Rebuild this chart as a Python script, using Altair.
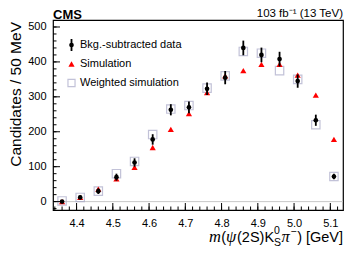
import altair as alt
import pandas as pd

mass = [4.36, 4.41, 4.46, 4.51, 4.56, 4.61, 4.66, 4.71, 4.76, 4.81, 4.86, 4.91, 4.96, 5.01, 5.06, 5.11]
data_vals = [0, 12, 30, 70, 112, 178, 263, 270, 323, 355, 440, 420, 408, 345, 233, 72]
data_errs = [4, 5, 8, 10, 12, 15, 16, 17, 18, 19, 21, 21, 21, 19, 16, 8]
sim_vals = [0, 12, 36, 65, 98, 155, 207, 252, 312, 360, 375, 393, 393, 362, 305, 178]
wsim_vals = [2, 12, 30, 80, 115, 192, 265, 275, 325, 360, 430, 425, 375, 350, 220, 72]

x_major = [4.4, 4.5, 4.6, 4.7, 4.8, 4.9, 5.0, 5.1]
x_minor = [round(4.34 + 0.02 * i, 2) for i in range(40)]
y_major = [0, 100, 200, 300, 400, 500]
y_minor = list(range(-20, 520, 20))

legend_labels = ["Bkg.-subtracted data", "Simulation", "Weighted simulation"]

W, H = 290, 190
XD = [4.335, 5.135]
YD = [-24, 520]
FONT = "Liberation Sans"

df = pd.DataFrame({
    "m": mass,
    "data": data_vals,
    "lo": [v - e for v, e in zip(data_vals, data_errs)],
    "hi": [v + e for v, e in zip(data_vals, data_errs)],
    "sim": sim_vals,
    "wsim": wsim_vals,
})

xs = alt.Scale(domain=XD, nice=False, zero=False)
ys = alt.Scale(domain=YD, nice=False, zero=False)

xax = alt.Axis(values=x_major, format=".1f", grid=False, ticks=False, domain=False, labelOverlap=False,
               labelFontSize=11, labelFont=FONT, labelColor="black", labelPadding=7, title=None)
yax = alt.Axis(values=y_major, grid=False, ticks=False, domain=False, labelOverlap=False,
               labelFontSize=11, labelFont=FONT, labelColor="black", labelPadding=7, title=None)

def X(f):
    return alt.X(f, scale=xs, axis=xax)

def Y(f):
    return alt.Y(f, scale=ys, axis=yax)

base = alt.Chart(df)

zero_line = alt.Chart(pd.DataFrame({"y": [0]})).mark_rule(color="#c8c8c8", strokeWidth=1).encode(
    y=Y("y:Q"))

wsim = base.mark_point(shape="square", filled=False, color="#a9a9c8", size=70, strokeWidth=1.2).encode(
    x=X("m:Q"), y=Y("wsim:Q"))

sim = base.mark_point(shape="triangle-up", filled=True, color="#ff0000", size=38, opacity=1).encode(
    x=X("m:Q"), y=Y("sim:Q"))

err = base.mark_rule(color="black", strokeWidth=1.8).encode(
    x=X("m:Q"), y=Y("lo:Q"), y2="hi:Q")

pts = base.mark_point(shape="circle", filled=True, color="black", size=22, opacity=1).encode(
    x=X("m:Q"), y=Y("data:Q"))

xt_major = alt.Chart(pd.DataFrame({"t": x_major})).mark_rule(color="black", strokeWidth=1).encode(
    x=X("t:Q"), y=alt.value(H), y2=alt.value(H - 7))
xt_minor = alt.Chart(pd.DataFrame({"t": x_minor})).mark_rule(color="black", strokeWidth=1).encode(
    x=X("t:Q"), y=alt.value(H), y2=alt.value(H - 3.5))
yt_major = alt.Chart(pd.DataFrame({"t": y_major})).mark_rule(color="black", strokeWidth=1).encode(
    y=Y("t:Q"), x=alt.value(0), x2=alt.value(7))
yt_minor = alt.Chart(pd.DataFrame({"t": y_minor})).mark_rule(color="black", strokeWidth=1).encode(
    y=Y("t:Q"), x=alt.value(0), x2=alt.value(3.5))

def txt(s, x, y, size=11, align="left", baseline="alphabetic", style="normal", weight="normal", font=FONT, angle=0):
    return alt.Chart(pd.DataFrame({"s": [s]})).mark_text(
        align=align, baseline=baseline, fontSize=size, fontStyle=style, fontWeight=weight,
        font=font, color="black", angle=angle).encode(x=alt.value(x), y=alt.value(y), text="s:N")

# legend
leg_y = [25, 44, 63]
leg_err = alt.Chart(pd.DataFrame({"a": [1]})).mark_rule(color="black", strokeWidth=1.8).encode(
    x=alt.value(18.5), y=alt.value(leg_y[0] - 6), y2=alt.value(leg_y[0] + 6))
leg_pt = alt.Chart(pd.DataFrame({"a": [1]})).mark_point(shape="circle", filled=True, color="black", size=22, opacity=1).encode(
    x=alt.value(18.5), y=alt.value(leg_y[0]))
leg_tri = alt.Chart(pd.DataFrame({"a": [1]})).mark_point(shape="triangle-up", filled=True, color="#ff0000", size=38, opacity=1).encode(
    x=alt.value(18.5), y=alt.value(leg_y[1]))
leg_sq = alt.Chart(pd.DataFrame({"a": [1]})).mark_point(shape="square", filled=False, color="#a9a9c8", size=50, strokeWidth=1.2).encode(
    x=alt.value(18.5), y=alt.value(leg_y[2]))
leg_txt = [txt(lab, 27, yy, size=11, baseline="middle") for lab, yy in zip(legend_labels, leg_y)]

cms = txt("CMS", 0, -1.5, size=13, weight="bold")
lumi = txt("103 fb⁻¹ (13 TeV)", W, -3, size=11.5, align="right")
ytitle = txt("Candidates / 50 MeV", -32, 2, size=15.5, align="right", angle=270)

SERIF = "Liberation Serif"
ty = H + 31.5
xt = [
    txt("m", 156, ty, size=16.5, style="italic", font=SERIF),
    txt("(", 168.3, ty, size=14.5),
    txt("ψ", 173, ty, size=16.5, style="italic", font=SERIF),
    txt("(2S)K", 184, ty, size=14.5),
    txt("0", 221, ty - 7.5, size=10.5),
    txt("S", 221, ty + 4.5, size=10.5),
    txt("π", 228.5, ty, size=16.5, style="italic", font=SERIF),
    txt("−", 237.5, ty - 7, size=10.5),
    txt(")", 244.2, ty, size=14.5),
    txt("[GeV]", W, ty, size=14.5, align="right"),
]

chart = alt.layer(
    zero_line, wsim, sim, err, pts,
    xt_major, xt_minor, yt_major, yt_minor,
    leg_err, leg_pt, leg_tri, leg_sq, *leg_txt,
    cms, lumi, ytitle, *xt
).properties(
    width=W, height=H,
    autosize=alt.AutoSizeParams(type="none"),
    padding={"left": 45, "top": 12, "right": 6, "bottom": 39},
).configure_view(stroke="black", strokeWidth=1.2)

chart.save("out.html", embed_options={"renderer": "svg", "actions": False})
